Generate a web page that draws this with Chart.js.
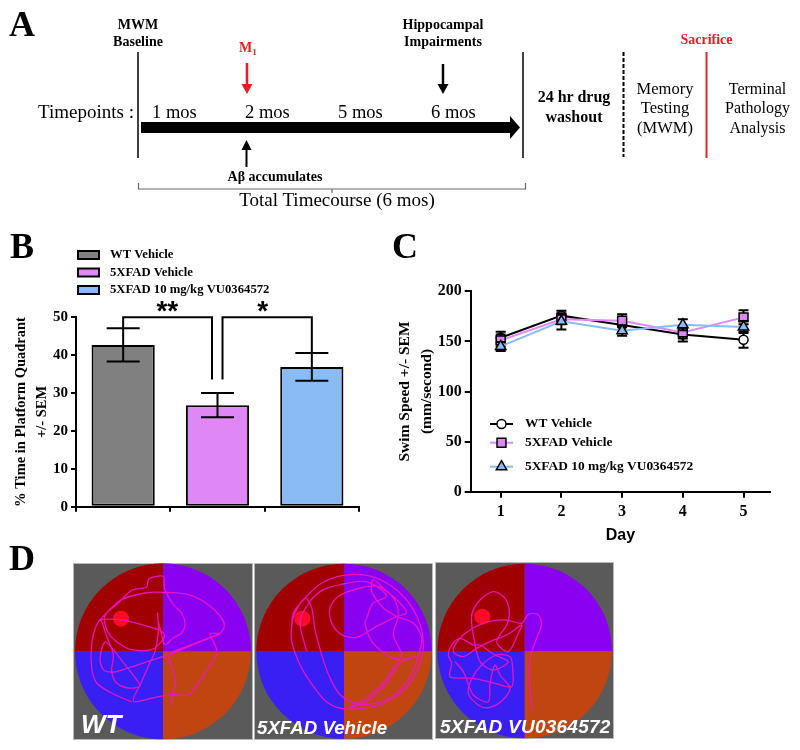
<!DOCTYPE html>
<html>
<head>
<meta charset="utf-8">
<title>Figure</title>
<script src="https://cdn.jsdelivr.net/npm/chart.js@4/dist/chart.umd.min.js"></script>
<style>
    html, body { margin: 0; padding: 0; background: #fff; }
    #page { position: relative; width: 800px; height: 750px; overflow: hidden; }
    canvas { position: absolute; display: block; }
    #overlay { position: absolute; left: 0; top: 0; z-index: 5; }
    #overlay text { font-family: "Liberation Serif", serif; }
    .bold { font-weight: bold; }
    .letter { font-size: 36px; font-weight: bold; }
    .mid { text-anchor: middle; }
    #overlay .label-d { font-family: "Liberation Sans", sans-serif; font-weight: bold; font-style: italic; fill: #fff; }
</style>
</head>
<body>
<div id="page">
    <canvas id="chartB" width="370" height="320" style="left:0;top:225px"></canvas>
    <canvas id="chartC" width="400" height="320" style="left:380px;top:225px"></canvas>
    <canvas id="arena1" width="180" height="177" style="left:73px;top:563px"></canvas>
    <canvas id="arena2" width="179" height="177" style="left:254px;top:563px"></canvas>
    <canvas id="arena3" width="179" height="177" style="left:435px;top:562px"></canvas>

    <svg id="overlay" width="800" height="750" xmlns="http://www.w3.org/2000/svg">
        <text class="letter" x="9" y="36">A</text>
        <text class="letter" x="10" y="258">B</text>
        <text class="letter" x="392" y="258">C</text>
        <text class="letter" x="9" y="570">D</text>

        <line x1="138" y1="52" x2="138" y2="158" stroke="#000" stroke-width="1.5"/>
        <line x1="523" y1="52" x2="523" y2="158" stroke="#000" stroke-width="1.5"/>
        <line x1="623.5" y1="52" x2="623.5" y2="157" stroke="#000" stroke-width="2" stroke-dasharray="4 2"/>
        <line x1="706.5" y1="52" x2="706.5" y2="158" stroke="#e8202a" stroke-width="2"/>

        <polygon points="141,122 510,122 510,116 520,127.5 510,139 510,133 141,133" fill="#000"/>

        <line x1="247" y1="63" x2="247" y2="86" stroke="#e81c24" stroke-width="2.5"/>
        <polygon points="241.5,84 252.5,84 247,94" fill="#e81c24"/>
        <line x1="443" y1="64" x2="443" y2="86" stroke="#000" stroke-width="2.5"/>
        <polygon points="437.5,84 448.5,84 443,94" fill="#000"/>
        <line x1="246.5" y1="167" x2="246.5" y2="147" stroke="#000" stroke-width="2"/>
        <polygon points="241.5,150 251.5,150 246.5,140" fill="#000"/>

        <path d="M138.5 183 V189 H525.5 V183 M332 189 V193" fill="none" stroke="#666" stroke-width="1.2"/>

        <text x="38" y="118" font-size="19">Timepoints :</text>
        <text x="152" y="118" font-size="18.5">1 mos</text>
        <text x="245" y="118" font-size="18.5">2 mos</text>
        <text x="338" y="118" font-size="18.5">5 mos</text>
        <text x="431" y="118" font-size="18.5">6 mos</text>

        <text class="bold mid" x="138" y="29" font-size="14">MWM</text>
        <text class="bold mid" x="138" y="46" font-size="14">Baseline</text>
        <text class="bold" x="239" y="52" font-size="14" fill="#e81c24">M<tspan font-size="9" dy="3">1</tspan></text>
        <text class="bold mid" x="443" y="29" font-size="14">Hippocampal</text>
        <text class="bold mid" x="443" y="46" font-size="14">Impairments</text>
        <text class="bold mid" x="275" y="181" font-size="14">Aβ accumulates</text>
        <text class="mid" x="337" y="206" font-size="19">Total Timecourse (6 mos)</text>

        <text class="bold mid" x="574" y="102" font-size="16">24 hr drug</text>
        <text class="bold mid" x="574" y="122" font-size="16">washout</text>

        <text class="mid" x="665" y="94" font-size="16.5">Memory</text>
        <text class="mid" x="665" y="113" font-size="16.5">Testing</text>
        <text class="mid" x="665" y="133" font-size="16.5">(MWM)</text>
        <text class="mid" x="757.5" y="94" font-size="16">Terminal</text>
        <text class="mid" x="757.5" y="113" font-size="16">Pathology</text>
        <text class="mid" x="757.5" y="133" font-size="16">Analysis</text>
        <text class="bold mid" x="706.5" y="44" font-size="14" fill="#e81c24">Sacrifice</text>

        <text class="label-d" x="81" y="733" font-size="26">WT</text>
        <text class="label-d" x="257" y="734" font-size="18.7">5XFAD Vehicle</text>
        <text class="label-d" x="440" y="732.5" font-size="19" letter-spacing="0.25">5XFAD VU0364572</text>
    </svg>
</div>

<script>
const groupLabels = ['WT Vehicle', '5XFAD Vehicle', '5XFAD 10 mg/kg VU0364572'];
const groupColors = ['#808080', '#df88f5', '#8bbbf5'];

// panel B
const quadrantTime = [42.7, 26.8, 36.9];
const quadrantSem = [4.4, 3.2, 3.65];
const quadrantTicks = [0, 10, 20, 30, 40, 50];

// panel C
const days = [1, 2, 3, 4, 5];
const speedWt = [153.7, 175.7, 166.4, 157, 151.7];
const speedVehicle = [151, 172, 170.7, 159, 174];
const speedDrug = [145, 170, 160.7, 166.7, 164.4];
const semWt = [6, 5, 6, 7, 8];
const semVehicle = [6, 5, 6.5, 6, 7];
const semDrug = [4.5, 8, 5, 5.5, 6];
const speedTicks = [0, 50, 100, 150, 200];

// panel D
const wtPathX = [316, 322, 332, 320, 312, 380, 430, 465, 430, 380, 320, 250, 190, 145, 115, 105, 120, 145, 180, 215, 225, 190, 155, 140, 145, 125, 110, 105, 165, 230, 280, 298, 290, 260, 200, 160, 130, 118, 125, 160, 200, 245, 250, 270, 296, 298, 325, 350, 360, 350, 325, 300, 290, 280, 278, 280, 270, 250, 228, 205, 270, 320, 372, 400, 430, 456, 445, 435, 465, 478, 470, 430, 370, 296, 240, 170, 125, 95, 80, 80, 95, 140, 200];
const wtPathY = [455, 425, 385, 340, 300, 270, 250, 238, 252, 272, 297, 320, 340, 352, 345, 310, 262, 285, 330, 375, 395, 400, 385, 350, 300, 245, 200, 195, 195, 210, 225, 240, 260, 285, 285, 265, 235, 195, 175, 145, 107, 97, 75, 66, 66, 100, 150, 175, 205, 235, 250, 270, 240, 200, 175, 230, 290, 335, 385, 440, 428, 420, 420, 385, 340, 295, 260, 238, 235, 215, 190, 150, 120, 113, 115, 135, 175, 210, 270, 340, 385, 415, 442];
const vehiclePathX = [125, 130, 165, 215, 280, 350, 410, 465, 505, 520, 512, 480, 430, 360, 280, 230, 190, 150, 125, 125, 135, 165, 185, 195, 215, 240, 275, 340, 420, 475, 505, 515, 490, 440, 400, 365, 370, 400, 450, 470, 440, 380, 320, 275, 245, 240, 265, 330, 385, 430, 445, 430, 455, 440, 400, 350, 300, 350, 410, 450, 500, 450, 410, 365, 345, 350, 370, 410, 380, 340, 280, 220, 180, 150, 170];
const vehiclePathY = [215, 175, 130, 85, 62, 62, 85, 130, 195, 260, 320, 385, 430, 458, 462, 442, 395, 330, 260, 215, 175, 130, 160, 225, 300, 370, 425, 450, 430, 375, 305, 250, 205, 185, 160, 110, 75, 100, 145, 175, 185, 215, 248, 240, 205, 160, 125, 100, 95, 130, 180, 240, 300, 325, 385, 430, 458, 440, 385, 325, 305, 315, 300, 260, 205, 190, 145, 125, 95, 80, 88, 105, 140, 200, 290];
const drugPathX = [305, 300, 298, 305, 318, 335, 322, 295, 275, 230, 175, 120, 85, 70, 100, 140, 180, 230, 275, 265, 235, 200, 230, 238, 225, 190, 150, 125, 130, 150, 190, 235, 195, 150, 130, 90, 65, 55, 65, 60, 130, 195, 245, 248, 240, 200, 155, 125, 115, 145, 175, 215, 240, 210, 195, 180, 175, 130, 100, 75];
const drugPathY = [465, 400, 330, 290, 255, 205, 178, 178, 205, 195, 200, 225, 255, 290, 305, 280, 260, 240, 210, 235, 290, 260, 210, 170, 130, 110, 135, 180, 240, 320, 345, 320, 300, 270, 270, 250, 270, 300, 325, 365, 370, 385, 395, 340, 305, 300, 330, 372, 415, 450, 458, 438, 400, 360, 330, 385, 440, 420, 350, 320];
const platformXs = [168, 157, 157];
const platformYs = [192, 192, 185];
const quadrantColors = ['#a00000', '#8a00f0', '#3a1ff5', '#c04510'];
const arenaBackground = '#5a5a5a';
const trackColor = 'rgba(240, 20, 205, 0.92)';

Chart.defaults.animation = false;
Chart.defaults.responsive = false;
Chart.defaults.devicePixelRatio = 1;
Chart.defaults.font.family = '"Liberation Serif", serif';
Chart.defaults.font.weight = 'bold';
Chart.defaults.color = '#000';

function blackAxis(tickLength) {
    return {
        grid: { display: true, drawOnChartArea: false, drawTicks: true, tickLength: tickLength, color: '#000', lineWidth: 2 },
        border: { display: true, color: '#000', width: 2 }
    };
}

function drawCapBar(ctx, x, yTop, yBottom, capWidth) {
    ctx.save();
    ctx.strokeStyle = '#000';
    ctx.lineWidth = 2;
    ctx.beginPath();
    ctx.moveTo(x, yTop);
    ctx.lineTo(x, yBottom);
    ctx.moveTo(x - capWidth / 2, yTop);
    ctx.lineTo(x + capWidth / 2, yTop);
    ctx.moveTo(x - capWidth / 2, yBottom);
    ctx.lineTo(x + capWidth / 2, yBottom);
    ctx.stroke();
    ctx.restore();
}

// error bars, brackets and keys of panel B
const panelBExtras = {
    id: 'panelBExtras',
    afterDatasetsDraw(chart) {
        const ctx = chart.ctx;
        const xs = chart.scales.x;
        const ys = chart.scales.y;
        const xAt = i => xs.getPixelForValue(i);

        quadrantTime.forEach(function (v, i) {
            drawCapBar(ctx, xAt(i), ys.getPixelForValue(v + quadrantSem[i]), ys.getPixelForValue(v - quadrantSem[i]), 33);
        });

        const bracketTop = ys.getPixelForValue(50);
        const bracketEnd = ys.getPixelForValue(33.6);
        ctx.save();
        ctx.strokeStyle = '#000';
        ctx.lineWidth = 2;
        ctx.beginPath();
        ctx.moveTo(xAt(0), ys.getPixelForValue(quadrantTime[0] + quadrantSem[0]));
        ctx.lineTo(xAt(0), bracketTop);
        ctx.lineTo(xAt(1) - 5.5, bracketTop);
        ctx.lineTo(xAt(1) - 5.5, bracketEnd);
        ctx.moveTo(xAt(1) + 5, bracketEnd);
        ctx.lineTo(xAt(1) + 5, bracketTop);
        ctx.lineTo(xAt(2), bracketTop);
        ctx.lineTo(xAt(2), ys.getPixelForValue(quadrantTime[2] + quadrantSem[2]));
        ctx.stroke();

        ctx.fillStyle = '#000';
        ctx.textAlign = 'center';
        ctx.textBaseline = 'alphabetic';
        ctx.font = 'bold 28px "Liberation Sans", sans-serif';
        ctx.fillText('**', (xAt(0) + xAt(1)) / 2 - 3, 95);
        ctx.fillText('*', (xAt(1) + xAt(2)) / 2 - 2, 95);

        ctx.textAlign = 'left';
        ctx.textBaseline = 'middle';
        ctx.font = 'bold 12.7px "Liberation Serif", serif';
        groupLabels.forEach(function (label, i) {
            const y = 30 + i * 17.5;
            ctx.fillStyle = groupColors[i];
            ctx.fillRect(78, y - 4, 21, 8);
            ctx.strokeStyle = '#000';
            ctx.lineWidth = 2;
            ctx.strokeRect(78, y - 4, 21, 8);
            ctx.fillStyle = '#000';
            ctx.fillText(label, 110, y);
        });
        ctx.restore();
    }
};

new Chart(document.getElementById('chartB'), {
    type: 'bar',
    data: {
        labels: groupLabels,
        datasets: [{
            data: quadrantTime,
            backgroundColor: groupColors,
            borderColor: '#000',
            borderWidth: 2,
            borderSkipped: false,
            barPercentage: 0.67,
            categoryPercentage: 1
        }]
    },
    options: {
        layout: { padding: { top: 92.3, right: 11, left: 0, bottom: 0 } },
        plugins: { legend: { display: false }, tooltip: { enabled: false } },
        scales: {
            x: {
                ...blackAxis(5),
                ticks: { display: false },
                afterFit(s) { s.height = 38.3; }
            },
            y: {
                ...blackAxis(5),
                min: 0,
                max: 50,
                afterBuildTicks(s) { s.ticks = quadrantTicks.map(v => ({ value: v })); },
                ticks: { padding: 3, font: { size: 15, weight: 'bold' } },
                title: {
                    display: true,
                    text: ['% Time in Platform Quadrant', '+/- SEM'],
                    font: { size: 14.5, weight: 'bold', lineHeight: 1.45 },
                    padding: { top: 11, bottom: 0 }
                },
                afterFit(s) { s.width = 76; }
            }
        }
    },
    plugins: [panelBExtras]
});

const speedSeries = [speedWt, speedVehicle, speedDrug];
const speedSems = [semWt, semVehicle, semDrug];
const speedMarkers = ['circle', 'rect', 'triangle'];
const speedLines = ['#000', '#df88f5', '#8bbbf5'];
const speedFills = ['#fff', '#df88f5', '#8bbbf5'];
const speedRadius = [4.5, 6.3, 6];

// error bars go under each series; keys sit inside the plot
const panelCExtras = {
    id: 'panelCExtras',
    beforeDatasetDraw(chart, args) {
        const xs = chart.scales.x;
        const ys = chart.scales.y;
        const i = args.index;
        days.forEach(function (d, k) {
            drawCapBar(chart.ctx, xs.getPixelForValue(d), ys.getPixelForValue(speedSeries[i][k] + speedSems[i][k]), ys.getPixelForValue(speedSeries[i][k] - speedSems[i][k]), 10);
        });
    },
    afterDatasetsDraw(chart) {
        const ctx = chart.ctx;
        const keyY = [199, 217.7, 241.7];
        ctx.save();
        groupLabels.forEach(function (label, i) {
            const y = keyY[i];
            ctx.strokeStyle = speedLines[i];
            ctx.lineWidth = 2;
            ctx.beginPath();
            ctx.moveTo(110, y);
            ctx.lineTo(133, y);
            ctx.stroke();
            ctx.fillStyle = speedFills[i];
            ctx.strokeStyle = '#000';
            ctx.lineWidth = 1.5;
            Chart.helpers.drawPoint(ctx, { pointStyle: speedMarkers[i], radius: speedRadius[i], rotation: 0, borderWidth: 1.5 }, 121.5, y);
            ctx.fillStyle = '#000';
            ctx.font = 'bold 13.4px "Liberation Serif", serif';
            ctx.textAlign = 'left';
            ctx.textBaseline = 'middle';
            ctx.fillText(label, 145, y);
        });
        ctx.restore();
    }
};

new Chart(document.getElementById('chartC'), {
    type: 'line',
    data: {
        datasets: speedSeries.map(function (values, i) {
            return {
                label: groupLabels[i],
                data: values.map((v, k) => ({ x: days[k], y: v })),
                borderColor: speedLines[i],
                borderWidth: 2,
                tension: 0,
                pointStyle: speedMarkers[i],
                pointRadius: speedRadius[i],
                pointBorderColor: '#000',
                pointBorderWidth: 1.5,
                pointBackgroundColor: speedFills[i],
                order: 3 - i
            };
        })
    },
    options: {
        layout: { padding: { top: 66.3, right: 10, left: 0, bottom: 0 } },
        plugins: { legend: { display: false }, tooltip: { enabled: false } },
        scales: {
            x: {
                ...blackAxis(6),
                type: 'linear',
                min: 0.506,
                max: 5.436,
                afterBuildTicks(s) { s.ticks = days.map(v => ({ value: v })); },
                ticks: { padding: 5, font: { size: 16, weight: 'bold' }, callback: v => v },
                title: {
                    display: true,
                    text: 'Day',
                    font: { family: '"Liberation Sans", sans-serif', size: 16, weight: 'bold' },
                    padding: { top: 4, bottom: 0 }
                },
                afterFit(s) { s.height = 53.3; }
            },
            y: {
                ...blackAxis(6),
                min: 0,
                max: 200,
                afterBuildTicks(s) { s.ticks = speedTicks.map(v => ({ value: v })); },
                ticks: { padding: 3, font: { size: 16, weight: 'bold' } },
                title: {
                    display: true,
                    text: ['Swim Speed +/- SEM', '(mm/second)'],
                    font: { size: 15.5, weight: 'bold', lineHeight: 1.42 },
                    padding: { top: 14, bottom: 0 }
                },
                afterFit(s) { s.width = 90.7; }
            }
        }
    },
    plugins: [panelCExtras]
});

// grey square, four coloured quadrants behind the track
const arenaBack = {
    id: 'arenaBack',
    beforeDatasetsDraw(chart, args, opts) {
        const ctx = chart.ctx;
        const xs = chart.scales.x;
        const ys = chart.scales.y;
        const cx = xs.getPixelForValue(opts.centerX);
        const cy = ys.getPixelForValue(opts.centerY);
        const r = Math.abs(xs.getPixelForValue(opts.centerX + opts.radius) - cx);
        ctx.save();
        ctx.fillStyle = arenaBackground;
        ctx.fillRect(0, 0, chart.width, chart.height);
        ctx.strokeStyle = '#b8b8b8';
        ctx.lineWidth = 1;
        ctx.strokeRect(0.5, 0.5, chart.width - 1, chart.height - 1);
        const starts = [Math.PI, 1.5 * Math.PI, 0.5 * Math.PI, 0];
        quadrantColors.forEach(function (color, i) {
            ctx.fillStyle = color;
            ctx.beginPath();
            ctx.moveTo(cx, cy);
            ctx.arc(cx, cy, r, starts[i], starts[i] + Math.PI / 2);
            ctx.closePath();
            ctx.fill();
        });
        ctx.restore();
    }
};

function makeArena(id, i, pathX, pathY, bounds, center) {
    new Chart(document.getElementById(id), {
        type: 'scatter',
        data: {
            datasets: [{
                data: pathX.map((x, k) => ({ x: x, y: pathY[k] })),
                showLine: true,
                borderColor: trackColor,
                borderWidth: 1.3,
                tension: 0.3,
                pointRadius: 0,
                order: 1
            }, {
                data: [{ x: platformXs[i], y: platformYs[i] }],
                pointRadius: 8,
                pointBorderWidth: 0,
                pointBackgroundColor: '#ff0a28',
                order: 2
            }]
        },
        options: {
            layout: { autoPadding: false, padding: 0 },
            plugins: {
                legend: { display: false },
                tooltip: { enabled: false },
                arenaBack: { centerX: center[0], centerY: center[1], radius: center[2] }
            },
            scales: {
                x: { display: false, min: bounds[0], max: bounds[1] },
                y: { display: false, min: bounds[2], max: bounds[3], reverse: true }
            }
        },
        plugins: [arenaBack]
    });
}

makeArena('arena1', 0, wtPathX, wtPathY, [24, 564, 25, 556], [294, 290, 264]);
makeArena('arena2', 1, vehiclePathX, vehiclePathY, [12, 549, 25, 556], [282, 290, 263]);
makeArena('arena3', 2, drugPathX, drugPathY, [15, 552, 21, 552], [284, 288, 262]);
</script>
</body>
</html>
